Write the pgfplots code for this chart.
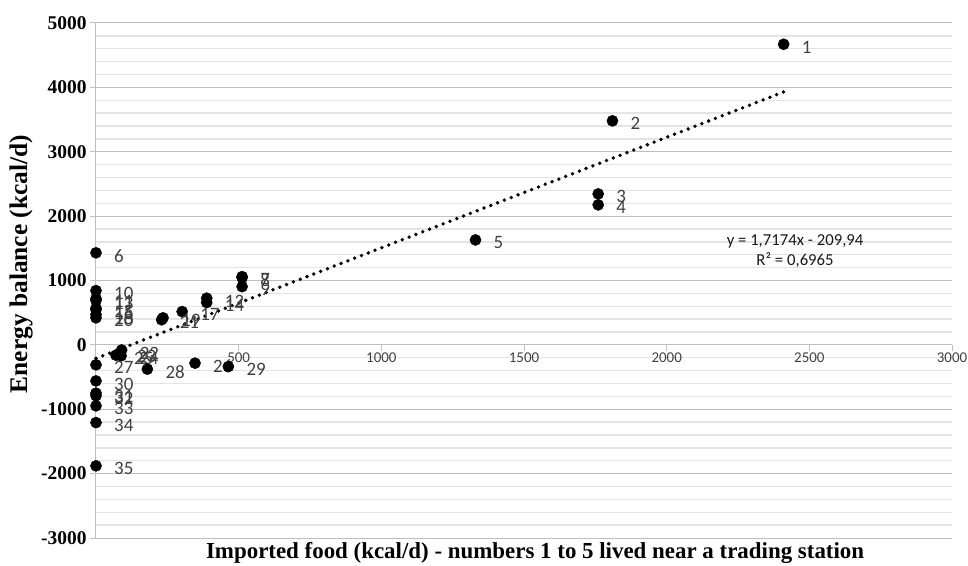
\documentclass[border=0pt]{standalone}
\usepackage{pgfplots}
\pgfplotsset{compat=1.18}
\usepackage{pgfplotstable}
\usepackage{fontspec}
\setmainfont{Carlito}
\newfontfamily\serifb{Liberation Serif}
\definecolor{lbl}{HTML}{404040}
\definecolor{majg}{HTML}{BFBFBF}
\definecolor{ming}{HTML}{E4E4E4}

\pgfplotstableread{
x y label
2410 4670 1
1810 3480 2
1760 2345 3
1760 2175 4
1330 1630 5
0 1430 6
512 1060 7
512 1045 8
512 905 9
0 843 10
0 720 11
388 725 12
0 690 13
388 657 14
0 570 15
0 545 16
302 517 17
0 470 18
235 420 19
0 420 20
230 390 21
90 -80 22
80 -140 23
88 -170 24
70 -160 25
347 -284 26
0 -310 27
180 -377 28
464 -337 29
0 -560 30
0 -750 31
0 -790 32
0 -947 33
0 -1207 34
0 -1879 35
}\pts

\begin{document}
\begin{tikzpicture}
\useasboundingbox (-96bp,-28bp) rectangle (872bp,538bp);
\begin{axis}[
  at={(0,0)}, anchor=south west,
  scale only axis, width=856bp, height=515bp,
  xmin=0, xmax=3000, ymin=-3000, ymax=5000,
  clip=false,
  axis x line=middle, axis y line=left,
  every inner x axis line/.append style={-},
  every outer x axis line/.append style={-},
  every inner y axis line/.append style={-},
  every outer y axis line/.append style={-},
  axis line style={-, draw=majg, line width=1bp},
  xtick={500,1000,1500,2000,2500,3000},
  ytick={-3000,-2000,-1000,0,1000,2000,3000,4000,5000},
  minor y tick num=4,
  ymajorgrids, yminorgrids,
  major grid style={draw=majg, line width=1bp},
  minor grid style={draw=ming, line width=1.3bp},
  tick align=outside, major tick length=6bp, minor tick length=0pt,
  tick style={draw=majg, line width=1bp},
  /pgf/number format/assume math mode=true,
  /pgf/number format/set thousands separator={},
  xticklabel style={font=\fontsize{15}{17}\selectfont, text=lbl, yshift=2bp},
  yticklabel style={font=\serifb\bfseries\fontsize{19.5}{21}\selectfont, text=black},
  xlabel={Imported food (kcal/d) - numbers 1 to 5 lived near a trading station},
  ylabel={Energy balance (kcal/d)},
  xlabel style={at={(axis description cs:0.513,-0.030)}, anchor=center,
    font=\serifb\bfseries\fontsize{23}{25}\selectfont},
  ylabel style={at={(axis description cs:-0.0876,0.532)}, anchor=center,
    font=\serifb\bfseries\fontsize{25.5}{27}\selectfont},
]
\addplot[black, line width=3.8bp, line cap=round, dash pattern=on 0bp off 7.3bp]
  coordinates {(0,-209.94) (2410,3929.0)};
\addplot[only marks, mark=*, mark size=5.6bp, mark options={fill=black, draw=black},
  nodes near coords, point meta=explicit symbolic,
  every node near coord/.append style={anchor=west, inner sep=0pt, xshift=18bp, yshift=-3bp,
    font=\fontsize{19}{21}\selectfont, text=lbl}]
  table[x=x, y=y, meta=label]{\pts};
\node[align=center, font=\fontsize{16.8}{20}\selectfont, text=black!90] at (axis cs:2450,1460)
  {y = 1,7174x - 209,94\\R² = 0,6965};
\end{axis}
\end{tikzpicture}
\end{document}
